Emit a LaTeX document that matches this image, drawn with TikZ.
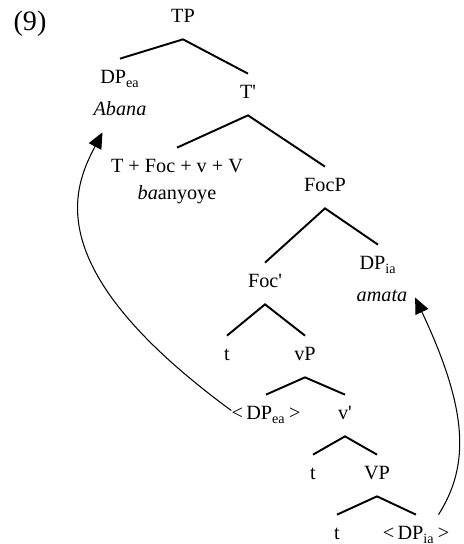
\documentclass[tikz,border=0pt]{standalone}
\usepackage{fontspec}
\setmainfont{Liberation Serif}
\usetikzlibrary{arrows.meta}

\begin{document}
\begin{tikzpicture}[
    lbl/.style={anchor=base, inner sep=0pt, text height=0.5cm, text depth=0.32cm, font=\fontsize{11.5}{13.8}\selectfont},
    branch/.style={line width=1.1pt},
    move/.style={line width=0.6pt, -{Triangle[length=0.32cm, width=0.28cm]}}
]
\useasboundingbox (0,0) rectangle (9.26,10.88);

% Example number
\node[anchor=base, inner sep=0pt, font=\fontsize{16}{19}\selectfont] (num) at (0.6,10.26) {(9)};

% Tree labels
\node[lbl] (tp) at (3.66,10.42) {TP};
\node[lbl] (dpea) at (2.40,9.20) {DP\textsubscript{ea}};
\node[lbl] (abana) at (2.40,8.56) {\textit{Abana}};
\node[lbl] (tbar) at (4.96,8.90) {T\textquotesingle};
\node[lbl] (thead) at (3.54,7.42) {T + Foc + v + V};
\node[lbl] (verb) at (3.54,6.88) {\textit{ba}anyoye};
\node[lbl] (focp) at (6.50,7.04) {FocP};
\node[lbl] (focbar) at (5.30,5.12) {Foc\textquotesingle};
\node[lbl] (dpia) at (7.56,5.48) {DP\textsubscript{ia}};
\node[lbl] (amata) at (7.64,4.84) {\textit{amata}};
\node[lbl] (tfoc) at (4.54,3.66) {t};
\node[lbl] (vp) at (6.10,3.66) {vP};
\node[lbl] (dpeatr) at (5.32,2.48) {<\,DP\textsubscript{ea}\,>};
\node[lbl] (vbar) at (6.90,2.48) {v\textquotesingle};
\node[lbl] (tv) at (6.26,1.28) {t};
\node[lbl] (bigvp) at (7.54,1.28) {VP};
\node[lbl] (tbigv) at (6.74,0.08) {t};
\node[lbl] (dpiatr) at (8.32,0.08) {<\,DP\textsubscript{ia}\,>};

% Branches
\draw[branch] (dpea.north) -- (tp.south) -- (tbar.north);
\draw[branch] (thead.north) -- (tbar.south) -- (focp.north);
\draw[branch] (focbar.north) -- (focp.south) -- (dpia.north);
\draw[branch] (tfoc.north) -- (focbar.south) -- (vp.north);
\draw[branch] (dpeatr.north) -- (vp.south) -- (vbar.north);
\draw[branch] (tv.north) -- (vbar.south) -- (bigvp.north);
\draw[branch] (tbigv.north) -- (bigvp.south) -- (dpiatr.north);

% Movement arrows
\draw[move] ([yshift=0.1cm]dpeatr.west) .. controls (0.8,5.48) and (1.44,7.08) .. ([xshift=-0.35cm]abana.south);
\draw[move] ([xshift=0.45cm]dpiatr.north) .. controls (9.4,1.58) and (9.36,2.68) .. ([xshift=0.15cm]amata.east);
\end{tikzpicture}
\end{document}
